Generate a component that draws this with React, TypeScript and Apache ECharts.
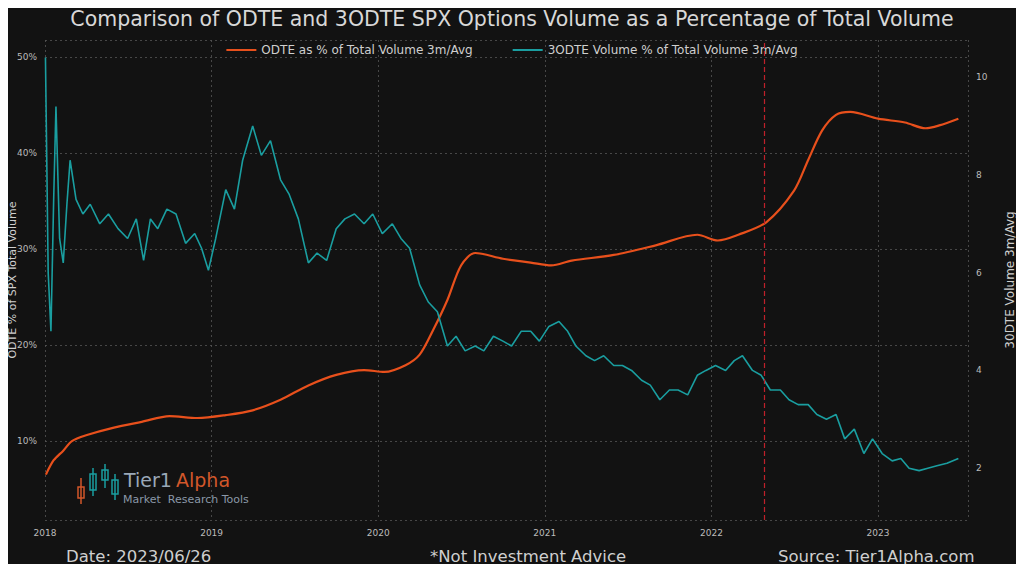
import { useEffect, useRef } from "react";
import * as echarts from "echarts";

const orangeDates = ["2018-01-03","2018-01-20","2018-02-10","2018-03-01","2018-04-01","2018-06-01","2018-08-01","2018-10-01","2018-12-01","2019-02-01","2019-04-01","2019-06-01","2019-08-01","2019-10-01","2019-12-01","2020-01-15","2020-03-01","2020-04-01","2020-05-01","2020-06-01","2020-07-01","2020-08-01","2020-10-01","2020-12-01","2021-01-15","2021-03-01","2021-06-01","2021-09-01","2021-12-01","2022-01-15","2022-03-01","2022-05-01","2022-07-01","2022-08-01","2022-09-01","2022-10-01","2022-11-01","2023-01-01","2023-03-01","2023-04-15","2023-05-15","2023-06-26"];
const orangeValues = [6.5,8.0,9.0,10.0,10.6,11.4,12.0,12.6,12.4,12.7,13.2,14.3,15.8,16.9,17.4,17.2,17.9,19.0,21.6,24.7,28.3,29.6,29.0,28.6,28.3,28.8,29.4,30.4,31.5,30.9,31.5,32.8,36.1,39.3,42.4,44.0,44.3,43.6,43.2,42.6,42.9,43.6];

const tealDates = ["2018-01-02","2018-01-08","2018-01-14","2018-01-20","2018-01-25","2018-02-02","2018-02-10","2018-02-18","2018-02-25","2018-03-10","2018-03-25","2018-04-10","2018-05-01","2018-05-20","2018-06-10","2018-07-01","2018-07-20","2018-08-05","2018-08-20","2018-09-05","2018-09-25","2018-10-15","2018-11-05","2018-11-25","2018-12-10","2018-12-25","2019-01-10","2019-02-01","2019-02-20","2019-03-10","2019-04-01","2019-04-20","2019-05-10","2019-06-01","2019-06-20","2019-07-10","2019-08-01","2019-08-20","2019-09-10","2019-10-01","2019-10-20","2019-11-10","2019-12-01","2019-12-20","2020-01-10","2020-02-01","2020-02-20","2020-03-10","2020-04-01","2020-04-20","2020-05-10","2020-06-01","2020-06-20","2020-07-10","2020-08-01","2020-08-20","2020-09-10","2020-10-01","2020-10-20","2020-11-10","2020-12-01","2020-12-20","2021-01-10","2021-02-01","2021-02-20","2021-03-10","2021-04-01","2021-04-20","2021-05-10","2021-06-01","2021-06-20","2021-07-10","2021-08-01","2021-08-20","2021-09-10","2021-10-01","2021-10-20","2021-11-10","2021-12-01","2021-12-20","2022-01-10","2022-02-01","2022-02-20","2022-03-10","2022-04-01","2022-04-20","2022-05-10","2022-06-01","2022-06-20","2022-07-10","2022-08-01","2022-08-20","2022-09-10","2022-10-01","2022-10-20","2022-11-10","2022-12-01","2022-12-20","2023-01-10","2023-02-01","2023-02-20","2023-03-10","2023-04-01","2023-04-20","2023-05-10","2023-06-01","2023-06-26"];
const tealValues = [10.4,6.0,4.8,7.5,9.4,6.7,6.2,7.4,8.3,7.5,7.2,7.4,7.0,7.2,6.9,6.7,7.1,6.25,7.1,6.9,7.3,7.2,6.6,6.8,6.5,6.05,6.7,7.7,7.3,8.3,9.0,8.4,8.7,7.9,7.6,7.1,6.2,6.4,6.25,6.9,7.1,7.2,7.0,7.2,6.8,7.0,6.7,6.5,5.75,5.4,5.2,4.5,4.7,4.4,4.5,4.4,4.7,4.6,4.5,4.8,4.8,4.6,4.9,5.0,4.8,4.5,4.3,4.2,4.3,4.1,4.1,4.0,3.8,3.7,3.4,3.6,3.6,3.5,3.9,4.0,4.1,4.0,4.2,4.3,4.0,3.9,3.6,3.6,3.4,3.3,3.3,3.1,3.0,3.1,2.6,2.8,2.3,2.6,2.3,2.15,2.2,2.0,1.95,2.0,2.05,2.1,2.2];

const yearTicks = [2018, 2019, 2020, 2021, 2022, 2023];
const markerDate = "2022-04-27";

const toYear = (s: string) => {
  const d = new Date(s + "T00:00:00Z");
  const y = d.getUTCFullYear();
  const start = Date.UTC(y, 0, 1);
  const end = Date.UTC(y + 1, 0, 1);
  return y + (d.getTime() - start) / (end - start);
};

const font = "'DejaVu Sans', sans-serif";

export default function App() {
  const ref = useRef<HTMLDivElement>(null);

  useEffect(() => {
    if (!ref.current) return;
    const chart = echarts.init(ref.current, undefined, { renderer: "svg" });
    const candle = (x: number, y1: number, y2: number, b1: number, b2: number, color: string) => [
      { type: "line", shape: { x1: x, y1, x2: x, y2 }, style: { stroke: color, lineWidth: 1.5 } },
      { type: "rect", shape: { x: x - 3, y: b1, width: 6, height: b2 - b1 }, style: { fill: "transparent", stroke: color, lineWidth: 1.5 } },
    ];
    chart.setOption({
      animation: false,
      backgroundColor: "#121212",
      title: {
        text: "Comparison of ODTE and 3ODTE SPX Options Volume as a Percentage of Total Volume",
        left: "center",
        top: 3,
        textStyle: { color: "#d8d8d8", fontSize: 20.5, fontWeight: "normal", fontFamily: font },
      },
      legend: {
        top: 39,
        left: "center",
        itemGap: 40,
        itemWidth: 30,
        icon: "path://M0,0L30,0L30,2L0,2Z",
        textStyle: { color: "#cfcfcf", fontSize: 12, fontFamily: font },
        data: ["ODTE as % of Total Volume 3m/Avg", "3ODTE Volume % of Total Volume 3m/Avg"],
      },
      grid: { left: 45, right: 56, top: 40, bottom: 52, outerBoundsMode: "none" },
      xAxis: {
        type: "value",
        min: 2018,
        max: 2023.54,
        interval: 1,
        axisLine: { show: false },
        axisTick: { show: false },
        axisLabel: { color: "#bbbbbb", fontSize: 9, fontFamily: font, formatter: (v: number) => (yearTicks.includes(v) ? String(v) : "") },
        splitLine: { show: true, lineStyle: { color: "#555", type: [2, 3], width: 0.8 } },
      },
      yAxis: [
        {
          type: "value",
          min: 1.77,
          max: 51.8,
          splitNumber: 5,
          axisLine: { show: false },
          axisTick: { show: false },
          axisLabel: { color: "#bbbbbb", fontSize: 9, fontFamily: font, showMinLabel: false, showMaxLabel: false, formatter: "{value}%" },
          splitLine: { show: true, lineStyle: { color: "#555", type: [2, 3], width: 0.8 } },
        },
        {
          type: "value",
          min: 0.94,
          max: 10.76,
          splitNumber: 5,
          name: "30DTE Volume 3m/Avg",
          nameLocation: "middle",
          nameGap: 36,
          nameTextStyle: { color: "#cfcfcf", fontSize: 12, fontFamily: font },
          axisLine: { show: false },
          axisTick: { show: false },
          axisLabel: { color: "#bbbbbb", fontSize: 9, fontFamily: font, showMinLabel: false, showMaxLabel: false },
          splitLine: { show: false },
        },
      ],
      series: [
        {
          name: "ODTE as % of Total Volume 3m/Avg",
          type: "line",
          yAxisIndex: 0,
          showSymbol: false,
          smooth: 0.3,
          color: "#e8501c",
          lineStyle: { width: 2.2 },
          data: orangeDates.map((d, i) => [toYear(d), orangeValues[i]]),
          markLine: {
            symbol: "none",
            silent: true,
            label: { show: false },
            lineStyle: { color: "#c0202a", type: [5, 3], width: 1.2 },
            data: [{ xAxis: toYear(markerDate) }],
          },
        },
        {
          name: "3ODTE Volume % of Total Volume 3m/Avg",
          type: "line",
          yAxisIndex: 1,
          showSymbol: false,
          color: "#1a9ea0",
          lineStyle: { width: 1.6 },
          data: tealDates.map((d, i) => [toYear(d), tealValues[i]]),
        },
      ],
      graphic: [
        { type: "text", x: 12, y: 280, rotation: Math.PI / 2, style: { text: "ODTE % of SPX Total Volume", fill: "#cfcfcf", font: `11px ${font}`, align: "center", verticalAlign: "middle" } },
        ...candle(81, 478, 504, 487, 498, "#d2572a"),
        ...candle(93, 468, 496, 474, 490, "#1a9ea0"),
        ...candle(105, 464, 488, 470, 480, "#1a9ea0"),
        ...candle(115, 474, 500, 480, 494, "#1a9ea0"),
        { type: "text", x: 124, y: 470, style: { text: "Tier1", fill: "#9aa8b8", font: `19px ${font}` } },
        { type: "text", x: 176, y: 470, style: { text: "Alpha", fill: "#d2572a", font: `19px ${font}` } },
        { type: "text", x: 123, y: 494, style: { text: "Market  Research Tools", fill: "#8a98a8", font: `11px ${font}` } },
        { type: "text", x: 66, y: 548, style: { text: "Date: 2023/06/26", fill: "#cfcfcf", font: `16.5px ${font}` } },
        { type: "text", x: 430, y: 548, style: { text: "*Not Investment Advice", fill: "#cfcfcf", font: `16.5px ${font}` } },
        { type: "text", x: 778, y: 548, style: { text: "Source: Tier1Alpha.com", fill: "#cfcfcf", font: `16.5px ${font}` } },
      ],
    });
    return () => chart.dispose();
  }, []);

  return (
    <div style={{ margin: -8 }}>
      <div ref={ref} style={{ width: 1024, height: 572 }} />
    </div>
  );
}
